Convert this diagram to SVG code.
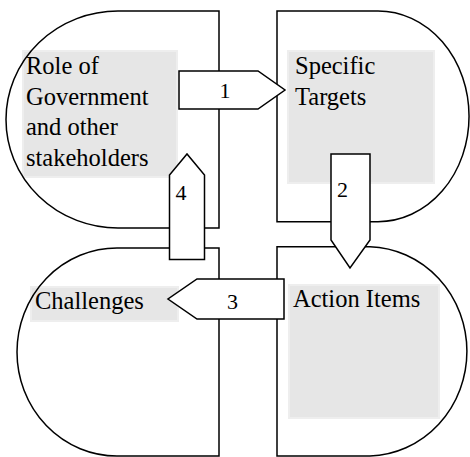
<svg xmlns="http://www.w3.org/2000/svg" width="470" height="457" viewBox="0 0 470 457">
  <style>
    .panel { fill: #e6e6e6; stroke: #eeeeee; stroke-width: 2; }
    .lobe { fill: none; stroke: #000; stroke-width: 1.5; stroke-linejoin: miter; }
    .arrow { fill: #fff; stroke: #000; stroke-width: 1.5; stroke-linejoin: miter; }
    text { font-family: "Liberation Serif", Tinos, "Times New Roman", Times, "Nimbus Roman", "Noto Serif", "DejaVu Serif", FreeSerif, serif; fill: #000; }
    .label { font-size: 24.5px; }
    .num { font-size: 22px; text-anchor: middle; }
  </style>
  <rect width="470" height="457" fill="#fff"/>

  <!-- text panels sit underneath the lobe outlines -->
  <g id="node-role">
    <rect class="panel" x="23" y="51" width="154" height="126"/>
    <path class="lobe" d="M219,11 H118 A112,108.5 0 0 0 118,228 H219 Z"/>
    <text class="label" x="26" y="74">Role of</text>
    <text class="label" x="26" y="104.5">Government</text>
    <text class="label" x="26" y="135">and other</text>
    <text class="label" x="26" y="165.5">stakeholders</text>
  </g>

  <g id="node-targets">
    <rect class="panel" x="288" y="51" width="146" height="132"/>
    <path class="lobe" d="M277,11 H378 A91,105.3 0 0 1 378,221.7 H277 Z"/>
    <text class="label" x="295" y="74">Specific</text>
    <text class="label" x="295" y="104.5">Targets</text>
  </g>

  <g id="node-challenges">
    <rect class="panel" x="31" y="287" width="147" height="34"/>
    <path class="lobe" d="M219,248 H117 A100,104 0 0 0 117,456 H219 Z"/>
    <text class="label" x="35" y="309">Challenges</text>
  </g>

  <g id="node-actions">
    <rect class="panel" x="289" y="285" width="150" height="133"/>
    <path class="lobe" d="M277,246.7 H370 A100,104.7 0 0 1 370,456 H277 Z"/>
    <text class="label" x="293" y="307">Action Items</text>
  </g>

  <!-- numbered block arrows linking the four lobes -->
  <g id="connectors">
    <polygon class="arrow" points="179,71 258,71 285,90 258,109 179,109"/>
    <text class="num" x="225" y="98">1</text>
    <polygon class="arrow" points="331,154 370,154 370,240 350,268 331,240"/>
    <text class="num" x="342.5" y="197">2</text>
    <polygon class="arrow" points="284,279 197,279 168,299 197,319 284,319"/>
    <text class="num" x="232.5" y="309">3</text>
    <polygon class="arrow" points="169.5,259.5 169.5,175 187,154 204.5,175 204.5,259.5"/>
    <text class="num" x="181" y="200">4</text>
  </g>
</svg>
